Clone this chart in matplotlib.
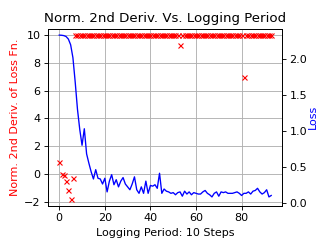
import numpy as np
from matplotlib import pyplot as plt

# logging period index (10 steps each)
steps = np.arange(94)

# normalised 2nd derivative of the loss fn (clipped at 10)
deriv_head = [0.88, 0.0, -0.1, -0.5, -1.15, -1.8, -0.3]
deriv_tail = [10.0] * 87
deriv_tail[53 - 7] = 9.3
deriv_tail[81 - 7] = 7.0
deriv = deriv_head + deriv_tail

loss = [2.335, 2.333, 2.328, 2.315, 2.28, 2.20, 2.02, 1.68, 1.30, 1.02,
        0.80, 1.03, 0.68, 0.55, 0.43, 0.33, 0.46, 0.34, 0.33, 0.26,
        0.34, 0.15, 0.30, 0.39, 0.25, 0.32, 0.22, 0.30, 0.35, 0.26,
        0.22, 0.18, 0.26, 0.36, 0.18, 0.13, 0.22, 0.13, 0.30, 0.13,
        0.24, 0.23, 0.25, 0.20, 0.41, 0.13, 0.19, 0.16, 0.15, 0.13,
        0.14, 0.11, 0.14, 0.15, 0.09, 0.16, 0.12, 0.15, 0.11, 0.14,
        0.13, 0.12, 0.12, 0.15, 0.17, 0.13, 0.11, 0.08, 0.13, 0.15,
        0.09, 0.15, 0.14, 0.15, 0.13, 0.13, 0.13, 0.14, 0.15, 0.13,
        0.10, 0.13, 0.13, 0.15, 0.12, 0.16, 0.17, 0.20, 0.15, 0.12,
        0.14, 0.18, 0.08, 0.10]

fig = plt.figure(figsize=(332 / 80, 249 / 80), dpi=80)
ax = fig.add_axes([0.1455, 0.174, 0.703, 0.7095])
ax.plot(steps, deriv, 'x', c='r', markersize=4.5, markeredgewidth=1.0)
ax.set_ylabel("Norm. 2nd Deriv. of Loss Fn.", color='r')
ax.set_xlabel("Logging Period: 10 Steps")
ax.set_title("Norm. 2nd Deriv. Vs. Logging Period")
ax.set_xlim(-4.8, 97.6)
ax.set_ylim(-2.3, 10.45)
ax.set_yticks([-2, 0, 2, 4, 6, 8, 10])
ax.set_xticks([0, 20, 40, 60, 80])
ax.grid(True)

ax2 = ax.twinx()
ax2.plot(steps, loss, c='b', linewidth=1.2)
ax2.set_ylabel("Loss", color='b', labelpad=1)
ax2.set_ylim(-0.042, 2.42)
ax2.set_yticks([0.0, 0.5, 1.0, 1.5, 2.0])

plt.savefig("out.png", dpi=80)
